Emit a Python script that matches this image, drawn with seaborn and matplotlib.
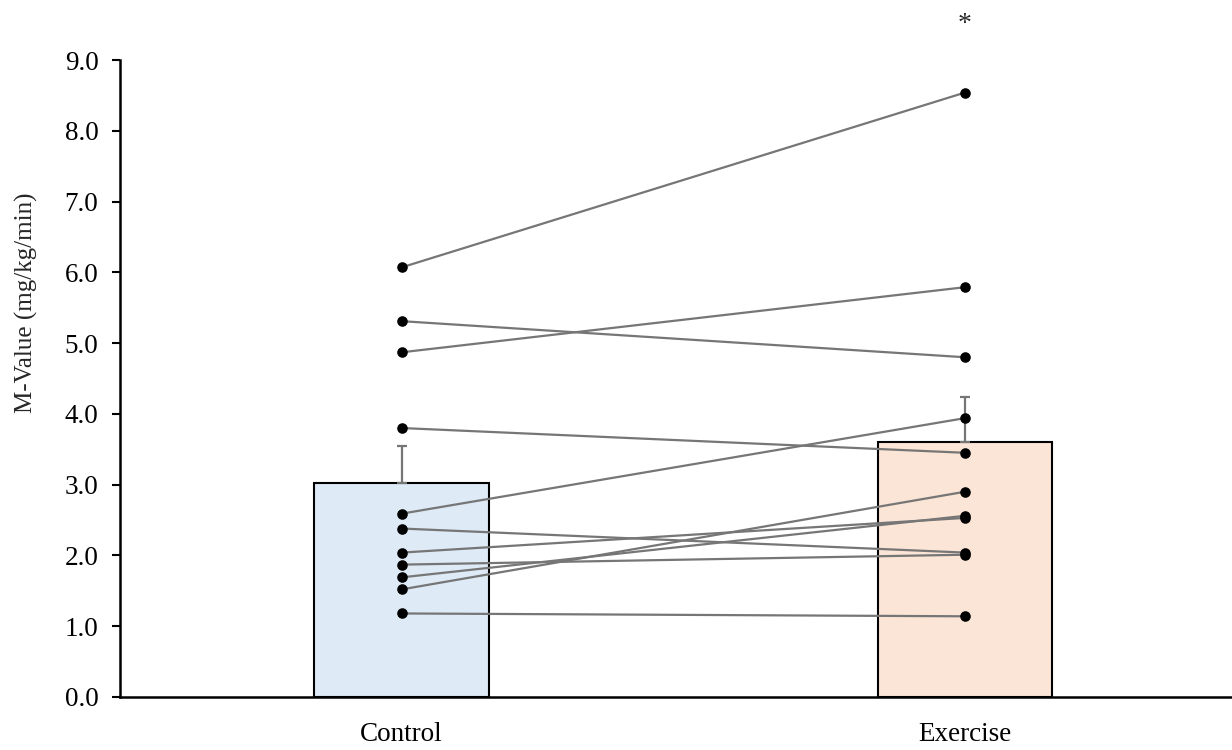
import numpy as np
import pandas as pd
import matplotlib
matplotlib.use("Agg")
import matplotlib.pyplot as plt
import seaborn as sns

# Paired M-values for each participant (mg/kg/min)
conditions = ["Control", "Exercise"]
control_vals = [6.07, 5.31, 4.87, 3.80, 2.59, 2.38, 2.04, 1.87, 1.69, 1.52, 1.18]
exercise_vals = [8.54, 4.80, 5.79, 3.45, 3.94, 2.04, 2.53, 2.01, 2.56, 2.90, 1.14]
y_ticks = [0.0, 1.0, 2.0, 3.0, 4.0, 5.0, 6.0, 7.0, 8.0, 9.0]
y_label = "M-Value (mg/kg/min)"
sig_mark = "*"

bar_colors = ["#DEEAF6", "#FBE5D6"]
line_gray = "#767676"

sns.set_theme(style="white")
plt.rcParams["font.family"] = ["Liberation Serif", "DejaVu Serif"]

n = len(control_vals)
df = pd.DataFrame({
    "subject": list(range(n)) * 2,
    "condition": [conditions[0]] * n + [conditions[1]] * n,
    "value": control_vals + exercise_vals,
})

fig = plt.figure(figsize=(12.32, 7.5), dpi=100)
ax = fig.add_axes([0.0974, 0.0707, 0.9026, 0.8493])

sns.barplot(data=df, x="condition", y="value", hue="condition",
            palette=bar_colors, saturation=1, errorbar=None, width=0.31,
            edgecolor="black", linewidth=1.5, legend=False, ax=ax, zorder=1)

# upper-only standard error bars
means = df.groupby("condition", sort=False)["value"].mean().values
sems = df.groupby("condition", sort=False)["value"].sem().values
ax.errorbar([0, 1], means, yerr=[np.zeros(2), sems], fmt="none",
            ecolor=line_gray, elinewidth=1.6, capsize=3.5, capthick=1.6, zorder=2)

# individual paired lines
for s in range(n):
    sub = df[df["subject"] == s]
    ax.plot([0, 1], sub["value"].values, color=line_gray, lw=1.6, zorder=3)
sns.scatterplot(data=df, x="condition", y="value", color="black", s=58,
                edgecolor="black", linewidth=0, ax=ax, zorder=4, legend=False)

ax.text(1, 9.5, sig_mark, ha="center", va="center", fontsize=20, clip_on=False)

ax.set_xlim(-0.5, 1.474)
ax.set_ylim(0, 9)
ax.set_yticks(y_ticks)
ax.set_yticklabels([f"{v:.1f}" for v in y_ticks], fontsize=19.5)
ax.set_xticks([0, 1])
ax.set_xticklabels(conditions, fontsize=19.5)
ax.set_xlabel("")
ax.set_ylabel(y_label, fontsize=18)
ax.yaxis.set_label_coords(-0.0735, 0.6185)

for side in ["top", "right"]:
    ax.spines[side].set_visible(False)
for side in ["left", "bottom"]:
    ax.spines[side].set_color("black")
    ax.spines[side].set_linewidth(1.8)
ax.tick_params(axis="y", which="major", left=True, length=5.5, width=1.5,
               color="black", pad=10, labelcolor="black")
ax.tick_params(axis="x", which="major", bottom=False, pad=12, labelcolor="black")

fig.savefig("out.png", dpi=100, facecolor="white")
